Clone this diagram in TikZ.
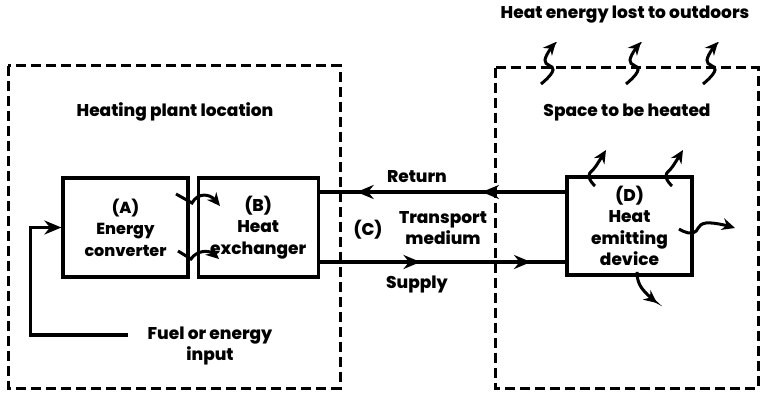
\documentclass[tikz,border=0pt]{standalone}
\usepackage{fontspec}
\setmainfont{Poppins}[BoldFont={Poppins ExtraBold}]
\usetikzlibrary{arrows.meta,positioning,calc,decorations.markings}
\tikzset{
  unit/.style={draw, line width=3.2pt, minimum height=99pt, align=center, inner sep=1pt,
    font=\bfseries\fontsize{17}{21.5}\selectfont},
  region/.style={line width=3pt, dash pattern=on 10pt off 5pt},
  pipe/.style={line width=3.2pt},
  heat/.style={line width=3pt, -{Stealth[length=13pt,width=12pt]}},
  lbl/.style={font=\bfseries\fontsize{17}{21.5}\selectfont, align=center},
  marks/.style 2 args={postaction={decorate}, decoration={markings,
    mark=at position #1 with {\arrow{Stealth[length=17pt,width=14pt]}},
    mark=at position #2 with {\arrow{Stealth[length=17pt,width=14pt]}}}},
}

\begin{document}
\begin{tikzpicture}[x=1pt,y=-1pt]
  \useasboundingbox (0,0) rectangle (766,395);
  % locations
  \draw[region] (8,66) rectangle (340,388);
  \draw[region] (495,68) rectangle (758,388);
  \node[lbl] (plant) at (175,112) {Heating plant location};
  \node[lbl] (space) at (627,112) {Space to be heated};
  \node[lbl] (outdoor) at (625,15) {Heat energy lost to outdoors};

  % units
  \node[unit, minimum width=125pt, font=\bfseries\fontsize{16}{21.5}\selectfont]
    (A) at (125.5,227.5) {(A)\\Energy\\converter};
  \node[unit, minimum width=120pt, right=7pt of A] (B) {(B)\\Heat\\exchanger};
  \node[unit, minimum width=125pt, minimum height=98pt] (D) at (629.5,226)
    {(D)\\Heat\\emitting\\device};

  % transport medium
  \coordinate (ret) at (450,192);
  \coordinate (sup) at (450,262);
  \draw[pipe, marks={0.34}{0.85}] (D.west |- ret) -- (B.east |- ret);
  \draw[pipe, marks={0.41}{0.86}] (B.east |- sup) -- (D.west |- sup);
  \node[lbl] (return) at (417,177) {Return};
  \node[lbl] (supply) at (417,284) {Supply};
  \node[lbl] (C) at (368,230) {(C)};
  \node[lbl] (medium) at (443,228) {Transport\\medium};

  % fuel
  \node[lbl] (fuel) at (210,346) {Fuel or energy\\input};
  \coordinate (fin) at (128,335);
  \draw[pipe, -{Stealth[length=17pt,width=14pt]}] (fin) -| ($(A.west)+(-31,0)$) -- (A.west);

  % heat flows
  \draw[heat] (176,194) -- (192,203) .. controls (198,192) and (210,194) .. (220,206);
  \draw[heat] (178,251) -- (191,259) .. controls (197,250) and (209,250) .. (219,259);
  \foreach \x in {541,626,703}
    \draw[heat] plot[smooth, tension=0.8] coordinates
      {(\x,84) ({\x+12},70) ({\x+4},60) ({\x+15},42)};
  \foreach \x in {595,672}
    \draw[heat] plot[smooth, tension=0.8] coordinates
      {(\x,186) ({\x-6},176) ({\x+1},166) ({\x+11},150)};
  \draw[heat] plot[smooth, tension=0.8] coordinates {(679,229) (693,233) (706,223) (735,228)};
  \draw[heat] plot[smooth, tension=0.8] coordinates {(637,272) (641,287) (657,303)};
\end{tikzpicture}
\end{document}
